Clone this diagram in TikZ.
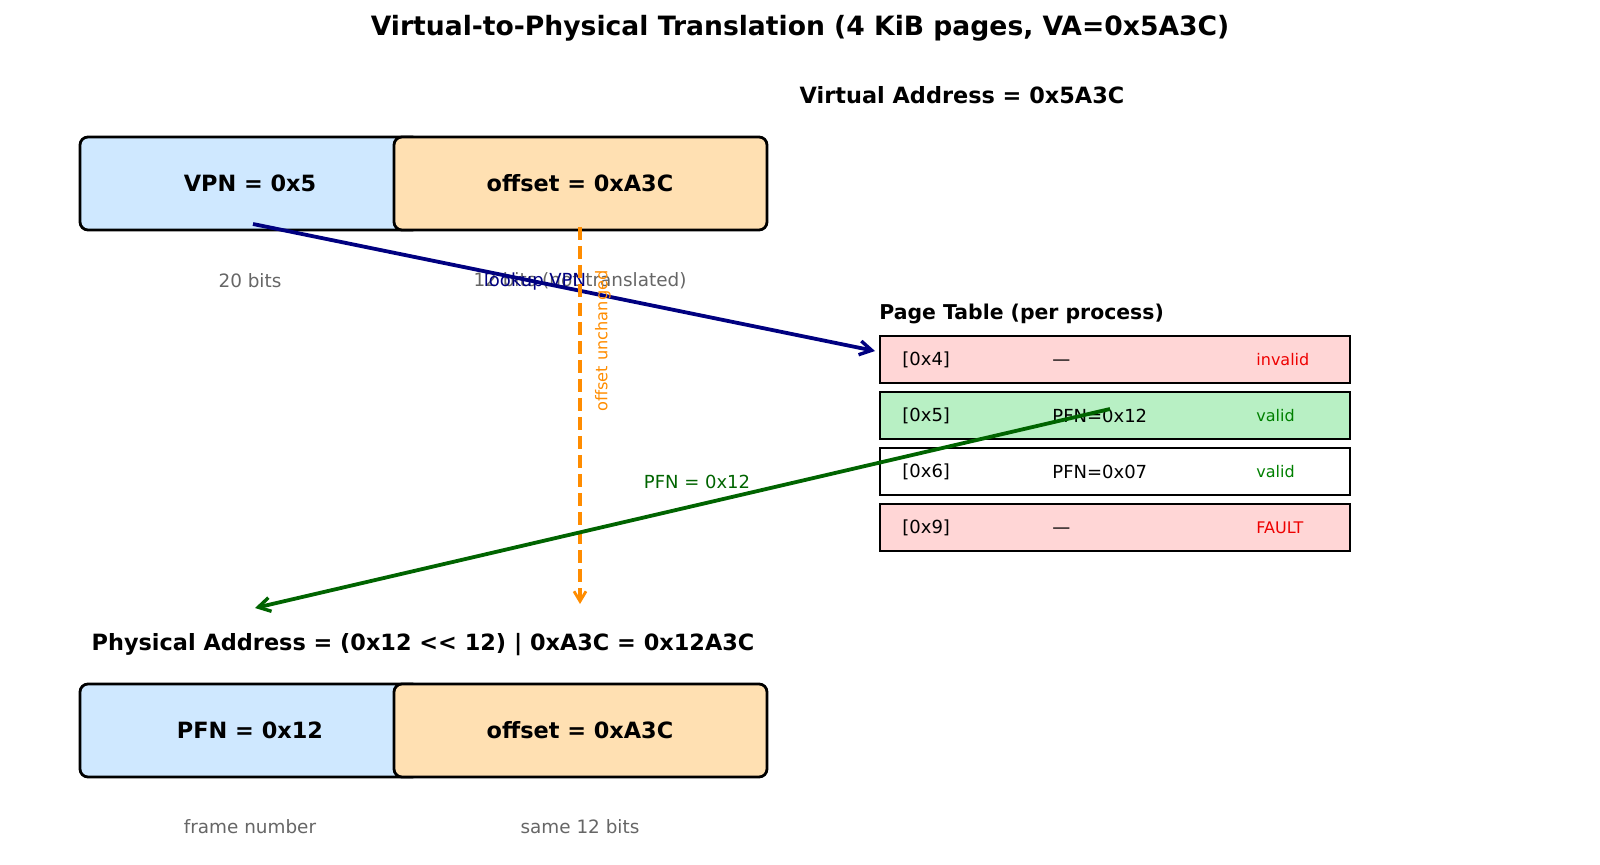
\documentclass[tikz,border=0pt]{standalone}
\usepackage{fontspec}
\setmainfont{DejaVu Sans}
\usetikzlibrary{arrows.meta}
\definecolor{vpnblue}{HTML}{CFE8FF}
\definecolor{offpeach}{HTML}{FFE0B2}
\definecolor{rowred}{HTML}{FFD6D6}
\definecolor{rowgreen}{HTML}{B8F0C4}
\definecolor{navyc}{HTML}{000080}
\definecolor{dgreen}{HTML}{006400}
\definecolor{dorange}{HTML}{FF8C00}
\definecolor{grayt}{HTML}{666666}
\definecolor{okgreen}{HTML}{008000}
\definecolor{badred}{HTML}{EE0000}
\newcommand\fsz[1]{\fontsize{#1pt}{#1pt}\selectfont}
\begin{document}
\begin{tikzpicture}[x=0.5pt,y=-0.5pt,
  field/.style={draw=black, line width=1.4pt, rounded corners=4pt, minimum height=46.5pt, inner sep=0pt},
  fieldtxt/.style={font=\fsz{11.2}\bfseries, inner sep=0pt},
  graytxt/.style={font=\fsz{9.2}, text=grayt, inner sep=0pt},
  heading/.style={font=\fsz{11.2}\bfseries, inner sep=0pt},
  ptrow/.style={draw=black, line width=1pt, minimum width=235pt, minimum height=23.5pt, inner sep=0pt, anchor=west},
  rowtxt/.style={font=\fsz{9}, anchor=west, inner sep=0pt},
  dashtxt/.style={font=\fsz{9}, anchor=west, inner sep=0pt, yshift=-1.5pt},
  stattxt/.style={font=\fsz{8}, anchor=west, inner sep=0pt},
  arr/.style={line width=1.9pt, -{Straight Barb[length=6pt,width=7pt,line width=1.7pt]}},
]
\useasboundingbox (0,0) rectangle (1600,865);

% title
\node[font=\fsz{13.3}\bfseries, inner sep=0pt] (title) at (800,28) {Virtual-to-Physical Translation (4 KiB pages, VA=0x5A3C)};

% virtual address
\node[heading] (vahead) at (962,95) {Virtual Address = 0x5A3C};
\node[field, fill=vpnblue, minimum width=170pt] (vpn) at (250,183.5) {};
\node[field, fill=offpeach, minimum width=186.5pt] (voff) at (580.5,183.5) {};
\node[fieldtxt] (vpntxt) at (250,183.5) {VPN = 0x5};
\node[fieldtxt] (vofftxt) at (580,183.5) {offset = 0xA3C};
\node[graytxt] (vpnbits) at (250,281) {20 bits};
\node[graytxt] (voffbits) at (580,281) {12 bits (not translated)};

% page table
\node[font=\fsz{10.2}\bfseries, anchor=west, inner sep=0pt] (pthead) at (879,314) {Page Table (per process)};
\node[ptrow, fill=rowred] (r4) at (879,360) {};
\node[ptrow, fill=rowgreen] (r5) at (879,416) {};
\node[ptrow, fill=white] (r6) at (879,472) {};
\node[ptrow, fill=rowred] (r9) at (879,528) {};
\node[rowtxt] (r4a) at (902,360) {[0x4]};
\node[dashtxt] (r4b) at (1052,360) {—};
\node[stattxt, text=badred] (r4c) at (1256,360) {invalid};
\node[rowtxt] (r5a) at (902,416) {[0x5]};
\node[rowtxt] (r5b) at (1052,416) {PFN=0x12};
\node[stattxt, text=okgreen] (r5c) at (1256,416) {valid};
\node[rowtxt] (r6a) at (902,472) {[0x6]};
\node[rowtxt] (r6b) at (1052,472) {PFN=0x07};
\node[stattxt, text=okgreen] (r6c) at (1256,472) {valid};
\node[rowtxt] (r9a) at (902,528) {[0x9]};
\node[dashtxt] (r9b) at (1052,528) {—};
\node[stattxt, text=badred] (r9c) at (1256,528) {FAULT};

% physical address
\node[heading] (pahead) at (423,645) {Physical Address = (0x12 <{}< 12) | 0xA3C = 0x12A3C};
\node[field, fill=vpnblue, minimum width=170pt] (pfn) at (250,730.5) {};
\node[field, fill=offpeach, minimum width=186.5pt] (poff) at (580.5,730.5) {};
\node[fieldtxt] (pfntxt) at (250,730.5) {PFN = 0x12};
\node[fieldtxt] (pofftxt) at (580,730.5) {offset = 0xA3C};
\node[graytxt] (pfnbits) at (250,827) {frame number};
\node[graytxt] (poffbits) at (580,827) {same 12 bits};

% connectors
\coordinate (vpnout) at (253,224);
\coordinate (ptin) at (875,351);
\coordinate (offout) at (580,227);
\coordinate (offin) at (580,604);
\coordinate (pfnout) at (1110,409);
\coordinate (pfnin) at (255,608);

\draw[arr, navyc] (vpnout) -- (ptin);
\node[font=\fsz{9}, text=navyc, inner sep=0pt] (lookup) at (535,282) {lookup VPN};

\draw[line width=1.7pt, dorange, dash pattern=on 6.5pt off 3pt, -{Straight Barb[length=5pt,width=6pt,line width=1.4pt]}] (offout) -- (offin);
\node[font=\fsz{8.1}, text=dorange, rotate=90, inner sep=0pt] (unch) at (603,341) {offset unchanged};

\draw[arr, dgreen] (pfnout) -- (pfnin);
\node[font=\fsz{9}, text=dgreen, inner sep=0pt] (pfnlab) at (697,482) {PFN = 0x12};
\end{tikzpicture}
\end{document}
